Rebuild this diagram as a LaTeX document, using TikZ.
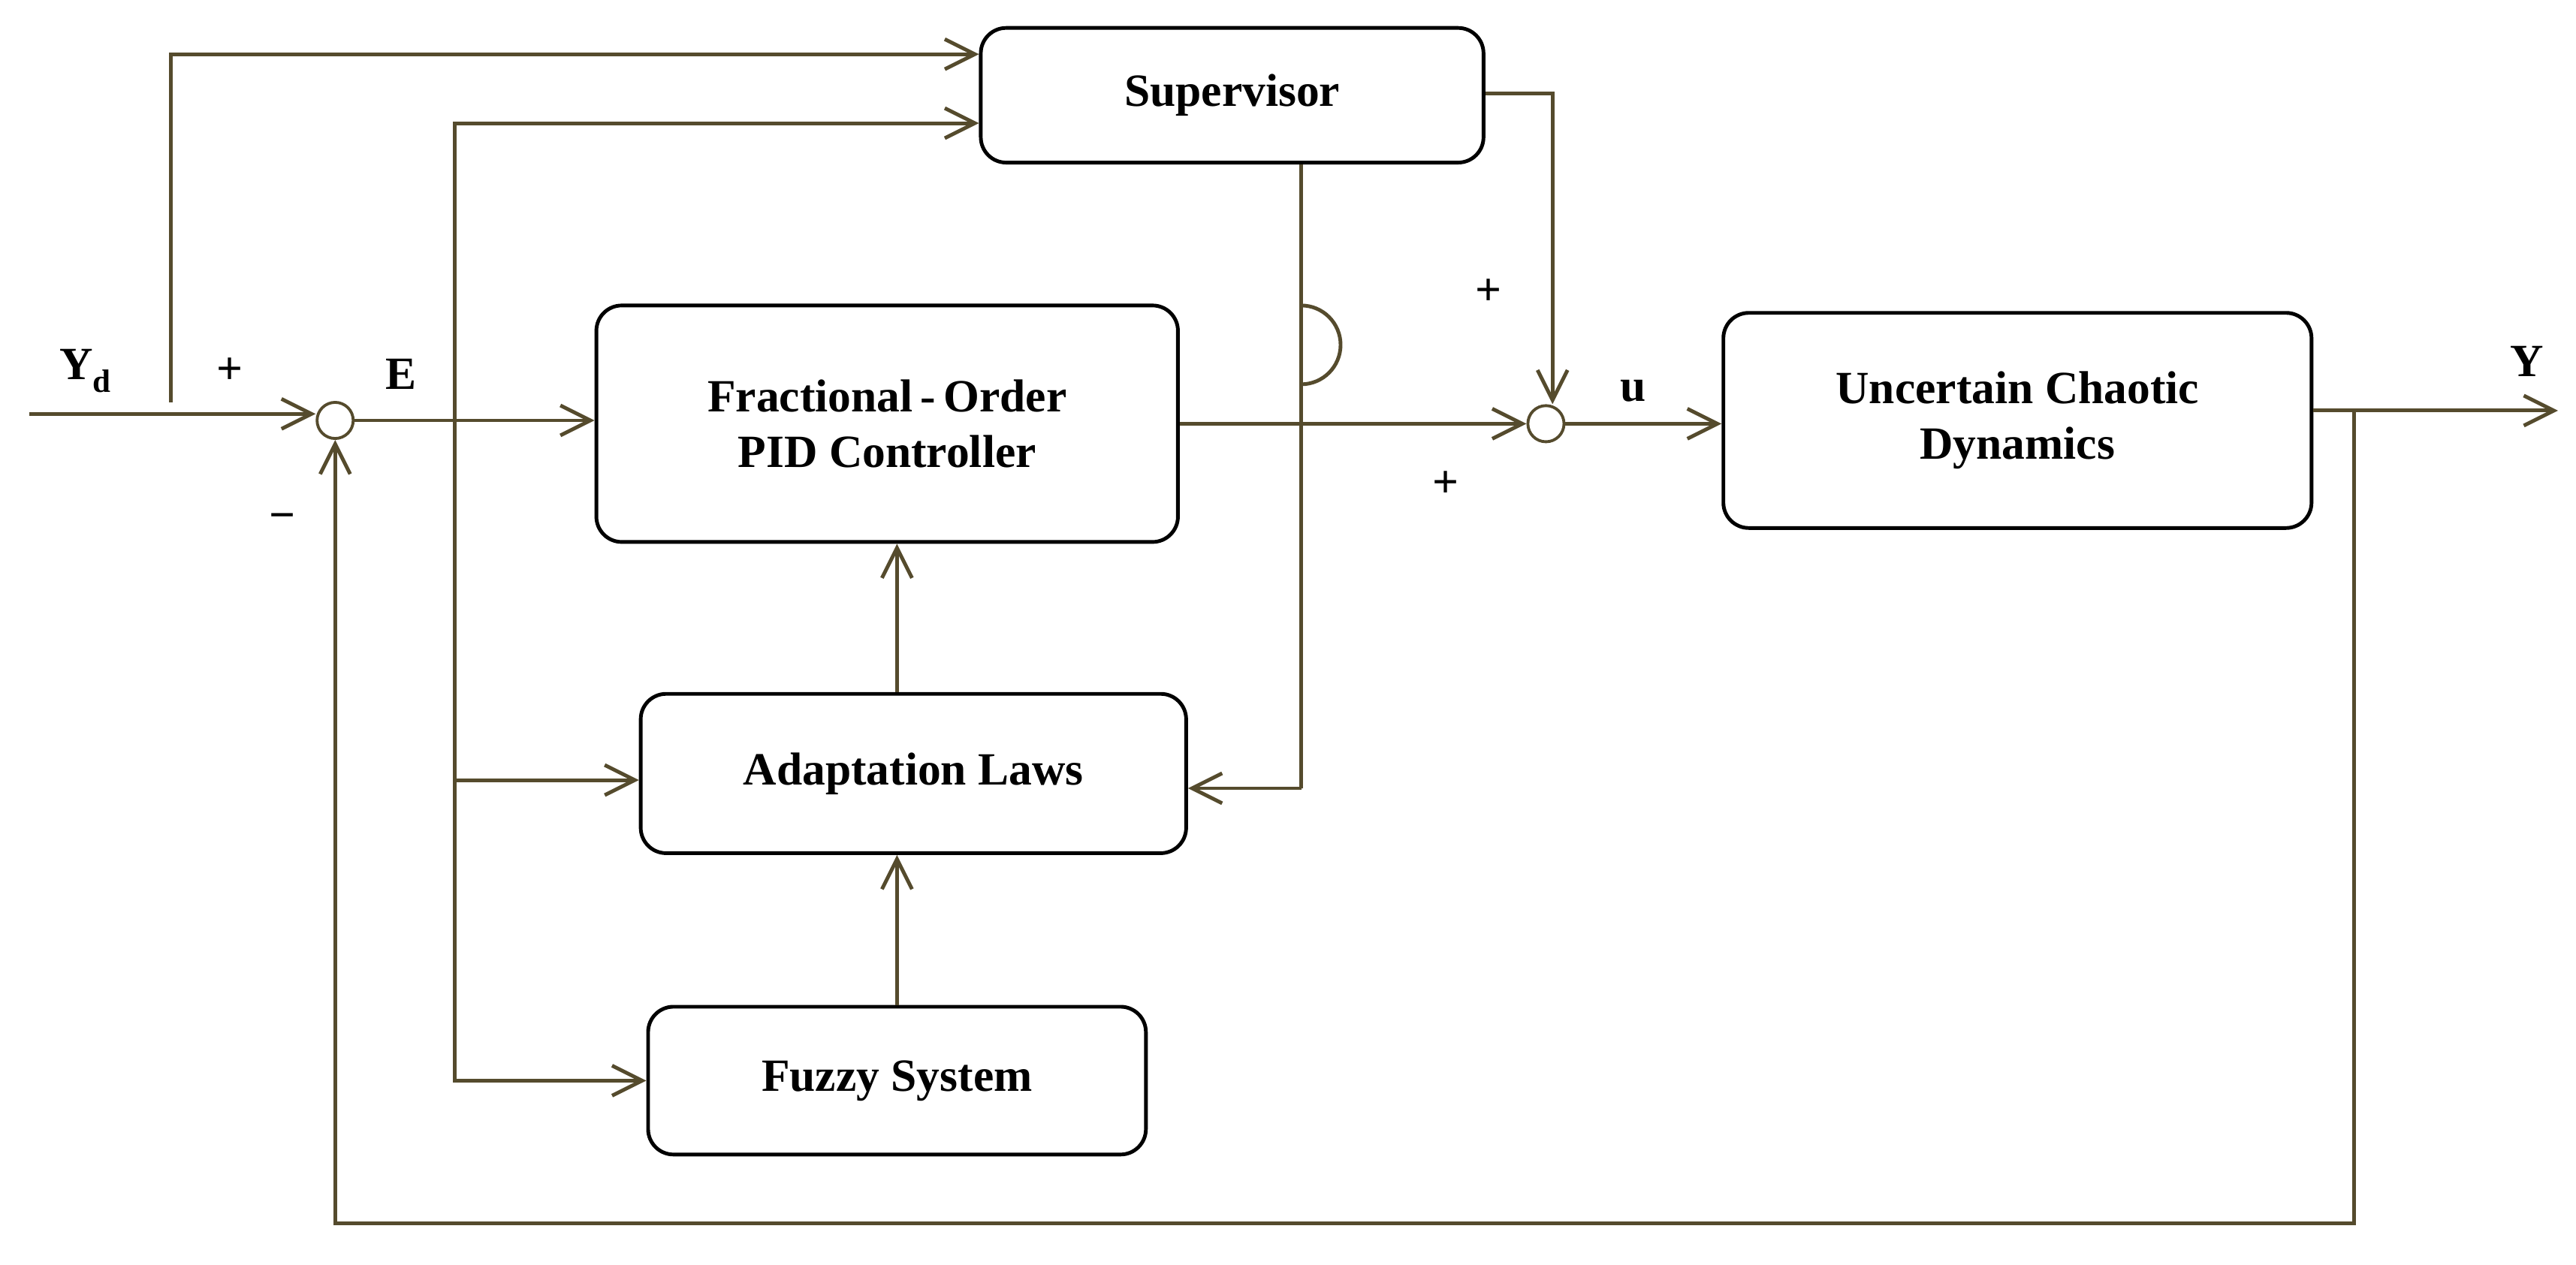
\documentclass[tikz,border=0pt]{standalone}
\usepackage{fontspec}
\setmainfont{Liberation Serif}
\usetikzlibrary{arrows.meta}
\definecolor{ln}{RGB}{85,75,45}
\begin{document}
\begin{tikzpicture}[x=0.05cm,y=-0.05cm,
 blk/.style={draw=black,line width=3.2pt,rounded corners=22pt,fill=white,font=\fontsize{40}{48}\selectfont\bfseries,align=center,inner sep=0pt},
 w/.style={draw=ln,line width=3.2pt},
 ar/.style={w,-{Straight Barb[length=26pt,width=26pt,line width=3.2pt]}},
 sum/.style={circle,draw=ln,line width=2.5pt,minimum size=22\pgflinewidth,inner sep=0pt,fill=white},
 lb/.style={font=\fontsize{40}{48}\selectfont\bfseries}]
\useasboundingbox (0,0) rectangle (1568,770);
\node[blk,minimum width=306*0.05cm,minimum height=82*0.05cm] (sup) at (750,58) {Supervisor};
\node[blk,minimum width=354*0.05cm,minimum height=144*0.05cm] (pid) at (540,258) {Fractional\,-\,Order\\PID Controller};
\node[blk,minimum width=332*0.05cm,minimum height=97*0.05cm] (ad) at (556,471) {Adaptation Laws};
\node[blk,minimum width=303*0.05cm,minimum height=90*0.05cm] (fz) at (546,658) {Fuzzy System};
\node[blk,minimum width=358*0.05cm,minimum height=131*0.05cm] (ucd) at (1228,256) {Uncertain Chaotic\\Dynamics};
\node[sum,minimum size=1.1cm] (s1) at (204,256) {};
\node[sum,minimum size=1.1cm] (s2) at (941,258) {};
\coordinate (in) at (18,252);
\coordinate (out) at (1557,250);
\draw[ar] (in) -- (s1.west|-in);
\draw[ar] (s1.east) -- (pid.west|-s1);
% Yd branch
\coordinate (yb) at (104,245);
\draw[ar] (yb) -- (104,33) -- (sup.west|-0,33);
% E branch
\draw[ar] (277,256) -- (277,75) -- (sup.west|-0,75);
\draw[ar] (277,256) -- (277,658) -- (fz.west|-0,658);
\draw[ar] (277,475) -- (ad.west|-0,475);
% PID to sum2
\draw[ar] (pid.east|-0,258) -- (s2.west);
% supervisor with hop
\draw[w] (sup.south-|792,0) -- (792,234) arc(90:-90:24) -- (792,480);
\draw[ar] (792,480) -- (ad.east|-0,480);
\draw[ar] (sup.east|-0,57) -- (945,57) -- (s2.north-|945,0);
% sum2 to ucd
\draw[ar] (s2.east) -- (ucd.west|-s2);
\draw[ar] (ucd.east|-out) -- (out);
\draw[ar] (1433,250) -- (1433,745) -- (204,745) -- (s1.south);
\draw[ar] (ad.north-|546,0) -- (pid.south-|546,0);
\draw[ar] (fz.north-|546,0) -- (ad.south-|546,0);
% labels
\node[lb] (lyd) at (52,226) {Y\textsubscript{d}};
\node[lb] (lp1) at (140,226) {+};
\node[lb] (lm1) at (172,318) {\textminus};
\node[lb] (le) at (244,228) {E};
\node[lb] (lp2) at (906,178) {+};
\node[lb] (lp3) at (880,295) {+};
\node[lb] (lu) at (994,238) {u};
\node[lb] (ly) at (1538,220) {Y};
\end{tikzpicture}
\end{document}
